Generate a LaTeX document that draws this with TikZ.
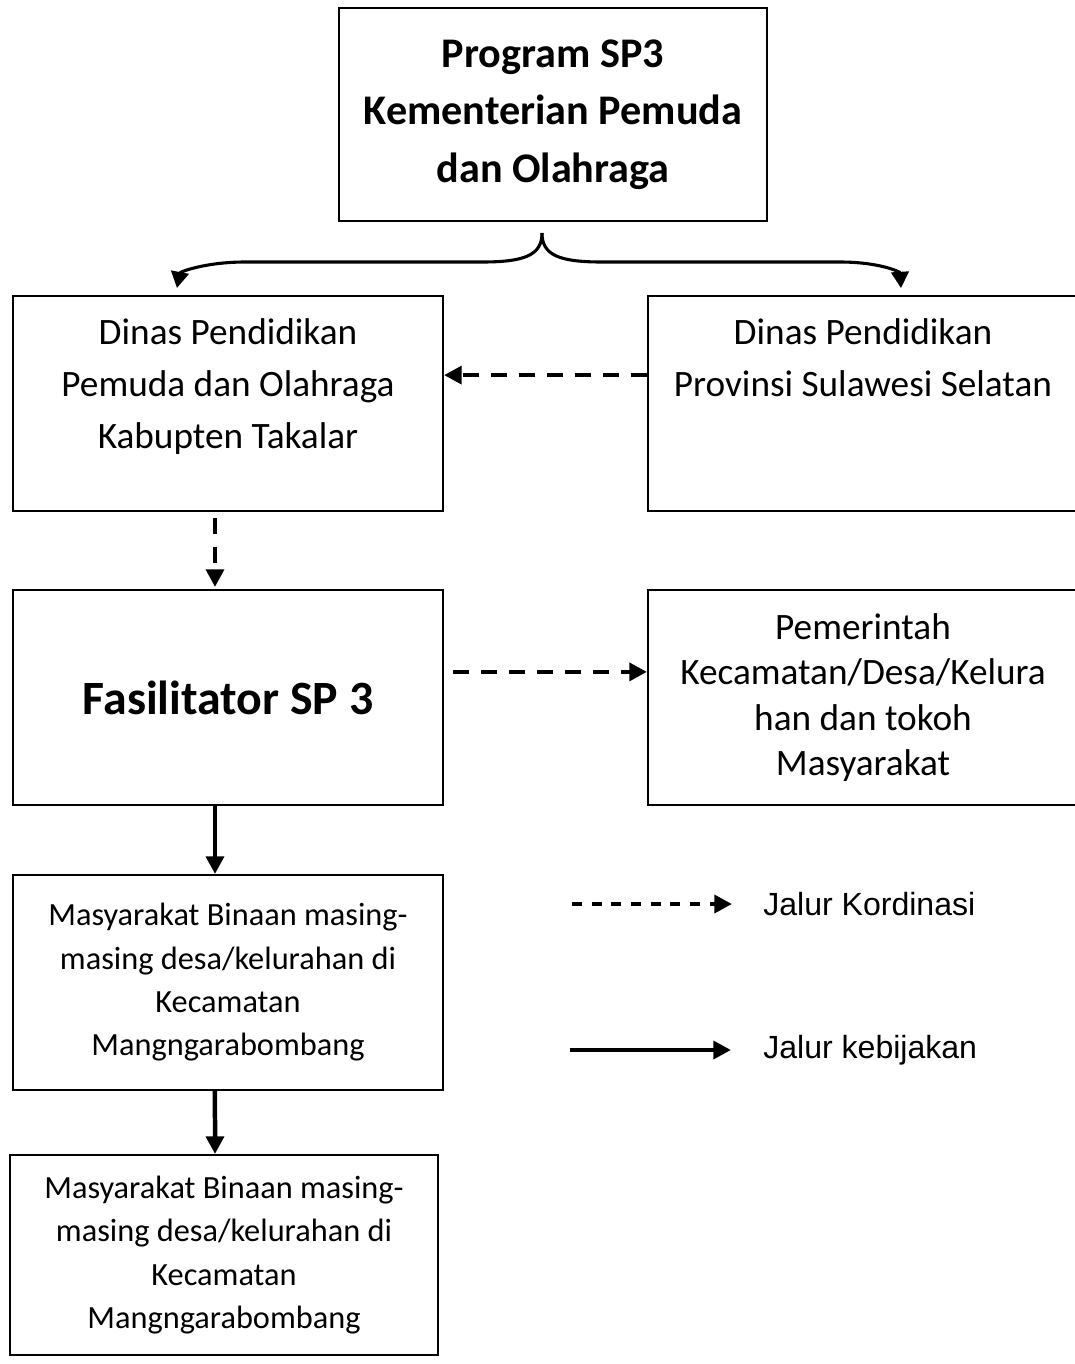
\documentclass[tikz,border=0pt]{standalone}
\usepackage{fontspec}
\setmainfont{Carlito}
\newfontfamily\legendfont{Liberation Sans}
\usepackage{tikz}
\usetikzlibrary{arrows.meta, positioning, calc}

\begin{document}
\begin{tikzpicture}[x=0.025cm, y=-0.025cm,
    box/.style={draw, line width=1.4pt, inner sep=0pt, align=center,
        minimum width=10.75cm, minimum height=5.375cm},
    tip/.style={-{Triangle[length=12.5pt, width=12.5pt]}},
    coordline/.style={tip, line width=3.2pt, dash pattern=on 11.4pt off 8.5pt},
    policyline/.style={tip, line width=3.2pt},
    fork/.style={-{Triangle[length=11.5pt, width=12.5pt]}, line width=2.2pt}]

\useasboundingbox (0,0) rectangle (1075,1364);

% Define nodes
\node[box, minimum width=10.7cm, minimum height=5.325cm,
      font=\fontsize{30}{41}\selectfont\bfseries] (prog) at (553,114.5)
    {Program SP3\\Kementerian Pemuda\\dan Olahraga};
\node[box, font=\fontsize{26.5}{37}\selectfont] (kab) at (228,403.5)
    {\begin{minipage}[c][5.375cm][t]{10.75cm}\centering\vspace*{0.56cm}%
     Dinas Pendidikan\\Pemuda dan Olahraga\\Kabupten Takalar\end{minipage}};
\node[box, font=\fontsize{26.5}{37}\selectfont] (prov) at (863,403.5)
    {\begin{minipage}[c][5.375cm][t]{10.75cm}\centering\vspace*{0.56cm}%
     Dinas Pendidikan\\Provinsi Sulawesi Selatan\end{minipage}};
\node[box, font=\fontsize{34}{40}\selectfont\bfseries] (fas) at (228,697.5)
    {Fasilitator SP 3};
\node[box, font=\fontsize{26.5}{32.4}\selectfont] (pem) at (863,697.5)
    {Pemerintah\\Kecamatan/Desa/Kelura\\han dan tokoh\\Masyarakat};
\node[box, font=\fontsize{23}{30.8}\selectfont] (binaan1) at (228,982.5)
    {Masyarakat Binaan masing-\\masing desa/kelurahan di\\Kecamatan\\Mangngarabombang};
\node[box, minimum width=10.7cm, minimum height=5cm,
      font=\fontsize{23}{30.8}\selectfont] (binaan2) at (224,1255)
    {Masyarakat Binaan masing-\\masing desa/kelurahan di\\Kecamatan\\Mangngarabombang};

% Legend
\node[anchor=west, inner sep=0pt, font=\legendfont\fontsize{22.8}{27}\selectfont] (kordinasi) at (763,904) {Jalur Kordinasi};
\node[anchor=west, inner sep=0pt, font=\legendfont\fontsize{22.8}{27}\selectfont] (kebijakan) at (763,1050) {Jalur kebijakan};
\coordinate (kordstart) at (572,904);
\coordinate (kebstart) at (570,1050);

% Fork from the programme box
\coordinate (split) at ($(prog.south)+(-11,11)$);
\draw[fork] (split) .. controls (542,255) and (525,262) .. (482,262) -- (245,262)
    .. controls (205,262) and (180,272) .. ($(kab.north west)+(165,-7)$);
\draw[fork] (split) .. controls (542,255) and (559,262) .. (602,262) -- (840,262)
    .. controls (880,262) and (900,272) .. ($(prov.north west)+(254,-7)$);

% Coordination lines
\draw[coordline] ([yshift=0.71cm]prov.west) -- ([yshift=0.71cm]kab.east);
\draw[coordline, dash pattern=on 11.4pt off 9.2pt, shorten <=0.15cm, shorten >=0.05cm]
    ([xshift=-0.325cm]kab.south) -- ([xshift=-0.325cm]fas.north);
\draw[coordline, shorten <=0.225cm] ([yshift=0.64cm]fas.east) -- ([yshift=0.64cm]pem.west);

% Policy lines
\draw[policyline] ([xshift=-0.325cm]fas.south) -- ([xshift=-0.325cm]binaan1.north);
\draw[policyline] ([xshift=-0.325cm]binaan1.south) -- ($(binaan2.north)+(-9,0)$);

% Legend arrows
\draw[coordline, dash pattern=on 7pt off 7pt, shorten >=0.775cm] (kordstart) -- (kordinasi.west);
\draw[policyline, shorten >=0.8cm] (kebstart) -- (kebijakan.west);

\end{tikzpicture}
\end{document}
